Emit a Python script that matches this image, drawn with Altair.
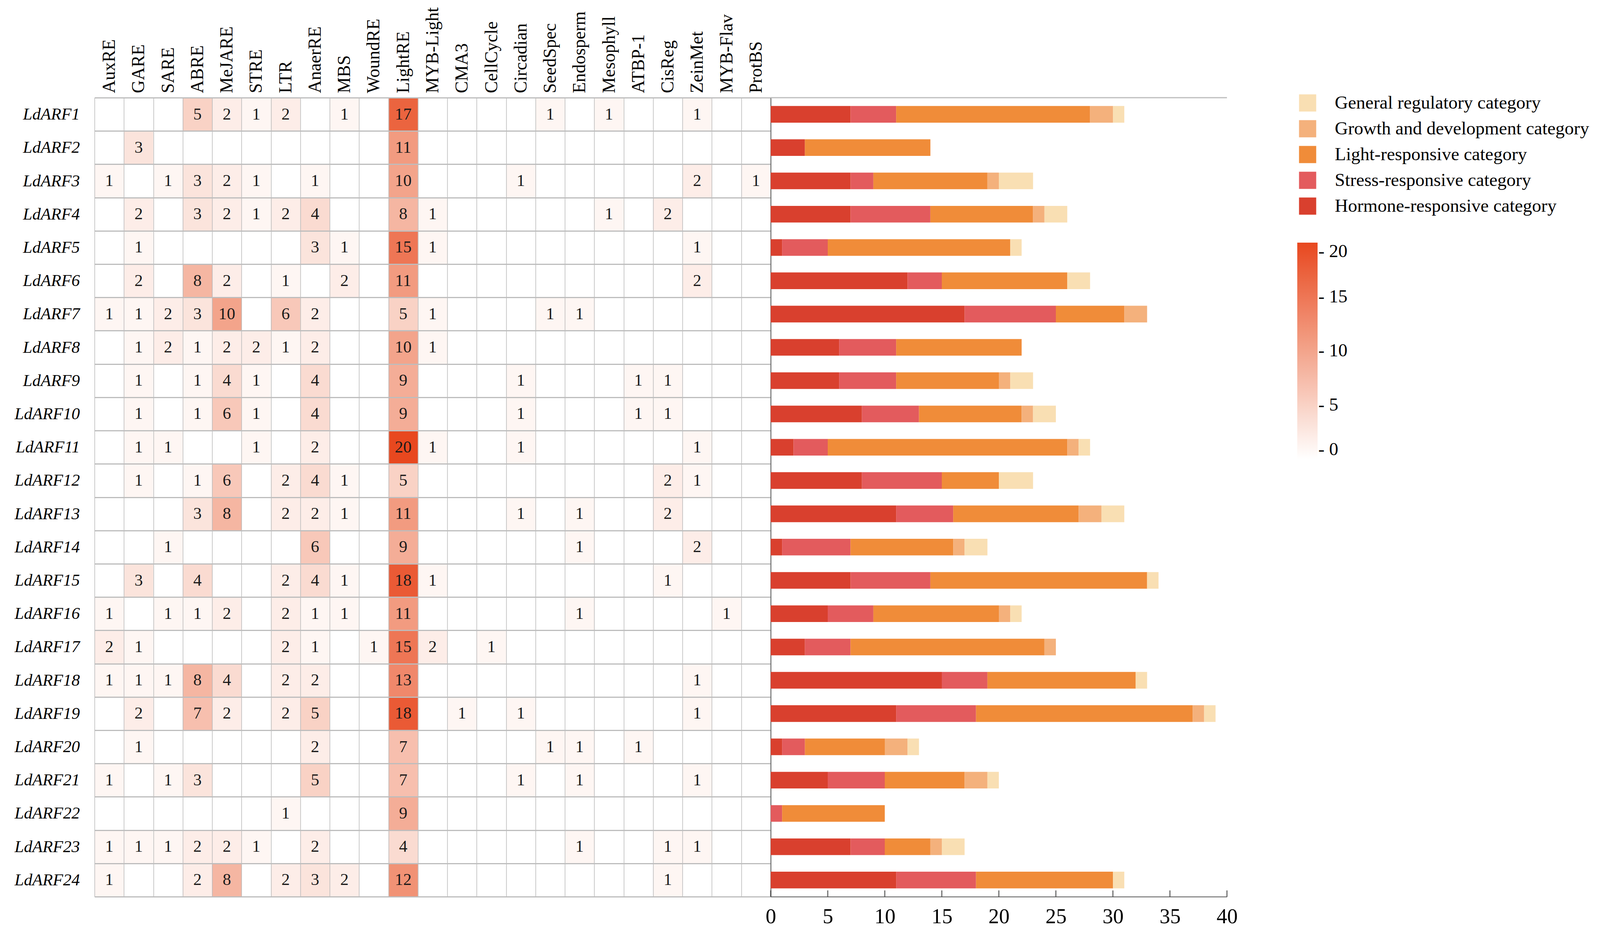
import altair as alt
import pandas as pd

FONT = "Liberation Serif"

genes = ["LdARF1", "LdARF2", "LdARF3", "LdARF4", "LdARF5", "LdARF6", "LdARF7", "LdARF8",
         "LdARF9", "LdARF10", "LdARF11", "LdARF12", "LdARF13", "LdARF14", "LdARF15", "LdARF16",
         "LdARF17", "LdARF18", "LdARF19", "LdARF20", "LdARF21", "LdARF22", "LdARF23", "LdARF24"]

elements = ["AuxRE", "GARE", "SARE", "ABRE", "MeJARE", "STRE", "LTR", "AnaerRE", "MBS", "WoundRE",
            "LightRE", "MYB-Light", "CMA3", "CellCycle", "Circadian", "SeedSpec", "Endosperm",
            "Mesophyll", "ATBP-1", "CisReg", "ZeinMet", "MYB-Flav", "ProtBS"]

# counts per gene (rows) and element (columns)
counts = [
    [0, 0, 0, 5, 2, 1, 2, 0, 1, 0, 17, 0, 0, 0, 0, 1, 0, 1, 0, 0, 1, 0, 0],
    [0, 3, 0, 0, 0, 0, 0, 0, 0, 0, 11, 0, 0, 0, 0, 0, 0, 0, 0, 0, 0, 0, 0],
    [1, 0, 1, 3, 2, 1, 0, 1, 0, 0, 10, 0, 0, 0, 1, 0, 0, 0, 0, 0, 2, 0, 1],
    [0, 2, 0, 3, 2, 1, 2, 4, 0, 0, 8, 1, 0, 0, 0, 0, 0, 1, 0, 2, 0, 0, 0],
    [0, 1, 0, 0, 0, 0, 0, 3, 1, 0, 15, 1, 0, 0, 0, 0, 0, 0, 0, 0, 1, 0, 0],
    [0, 2, 0, 8, 2, 0, 1, 0, 2, 0, 11, 0, 0, 0, 0, 0, 0, 0, 0, 0, 2, 0, 0],
    [1, 1, 2, 3, 10, 0, 6, 2, 0, 0, 5, 1, 0, 0, 0, 1, 1, 0, 0, 0, 0, 0, 0],
    [0, 1, 2, 1, 2, 2, 1, 2, 0, 0, 10, 1, 0, 0, 0, 0, 0, 0, 0, 0, 0, 0, 0],
    [0, 1, 0, 1, 4, 1, 0, 4, 0, 0, 9, 0, 0, 0, 1, 0, 0, 0, 1, 1, 0, 0, 0],
    [0, 1, 0, 1, 6, 1, 0, 4, 0, 0, 9, 0, 0, 0, 1, 0, 0, 0, 1, 1, 0, 0, 0],
    [0, 1, 1, 0, 0, 1, 0, 2, 0, 0, 20, 1, 0, 0, 1, 0, 0, 0, 0, 0, 1, 0, 0],
    [0, 1, 0, 1, 6, 0, 2, 4, 1, 0, 5, 0, 0, 0, 0, 0, 0, 0, 0, 2, 1, 0, 0],
    [0, 0, 0, 3, 8, 0, 2, 2, 1, 0, 11, 0, 0, 0, 1, 0, 1, 0, 0, 2, 0, 0, 0],
    [0, 0, 1, 0, 0, 0, 0, 6, 0, 0, 9, 0, 0, 0, 0, 0, 1, 0, 0, 0, 2, 0, 0],
    [0, 3, 0, 4, 0, 0, 2, 4, 1, 0, 18, 1, 0, 0, 0, 0, 0, 0, 0, 1, 0, 0, 0],
    [1, 0, 1, 1, 2, 0, 2, 1, 1, 0, 11, 0, 0, 0, 0, 0, 1, 0, 0, 0, 0, 1, 0],
    [2, 1, 0, 0, 0, 0, 2, 1, 0, 1, 15, 2, 0, 1, 0, 0, 0, 0, 0, 0, 0, 0, 0],
    [1, 1, 1, 8, 4, 0, 2, 2, 0, 0, 13, 0, 0, 0, 0, 0, 0, 0, 0, 0, 1, 0, 0],
    [0, 2, 0, 7, 2, 0, 2, 5, 0, 0, 18, 0, 1, 0, 1, 0, 0, 0, 0, 0, 1, 0, 0],
    [0, 1, 0, 0, 0, 0, 0, 2, 0, 0, 7, 0, 0, 0, 0, 1, 1, 0, 1, 0, 0, 0, 0],
    [1, 0, 1, 3, 0, 0, 0, 5, 0, 0, 7, 0, 0, 0, 1, 0, 1, 0, 0, 0, 1, 0, 0],
    [0, 0, 0, 0, 0, 0, 1, 0, 0, 0, 9, 0, 0, 0, 0, 0, 0, 0, 0, 0, 0, 0, 0],
    [1, 1, 1, 2, 2, 1, 0, 2, 0, 0, 4, 0, 0, 0, 0, 0, 1, 0, 0, 1, 1, 0, 0],
    [1, 0, 0, 2, 8, 0, 2, 3, 2, 0, 12, 0, 0, 0, 0, 0, 0, 0, 0, 1, 0, 0, 0],
]

# category totals per gene
hormone = [7, 3, 7, 7, 1, 12, 17, 6, 6, 8, 2, 8, 11, 1, 7, 5, 3, 15, 11, 1, 5, 0, 7, 11]
stress = [4, 0, 2, 7, 4, 3, 8, 5, 5, 5, 3, 7, 5, 6, 7, 4, 4, 4, 7, 2, 5, 1, 3, 7]
light = [17, 11, 10, 9, 16, 11, 6, 11, 9, 9, 21, 5, 11, 9, 19, 11, 17, 13, 19, 7, 7, 9, 4, 12]
growth = [2, 0, 1, 1, 0, 0, 2, 0, 1, 1, 1, 0, 2, 1, 0, 1, 1, 0, 1, 2, 2, 0, 1, 0]
general = [1, 0, 3, 2, 1, 2, 0, 0, 2, 2, 1, 3, 2, 2, 1, 1, 0, 1, 1, 1, 1, 0, 2, 1]

categories = ["Hormone-responsive category", "Stress-responsive category",
              "Light-responsive category", "Growth and development category",
              "General regulatory category"]
cat_colors = ["#d9402e", "#e35b5d", "#f08c39", "#f4b17c", "#f9dfb3"]
legend_order = categories[::-1]
legend_colors = cat_colors[::-1]
x_ticks = [0, 5, 10, 15, 20, 25, 30, 35, 40]
color_ticks = [0, 5, 10, 15, 20]
heat_stops = [0, 10, 20]
heat_colors = ["#ffffff", "#f3a48b", "#e8481f"]

# ---- build tables
heat_rows = []
for gi, g in enumerate(genes):
    for ei, e in enumerate(elements):
        heat_rows.append({"gene": g, "element": e, "value": counts[gi][ei]})
heat_df = pd.DataFrame(heat_rows)

bar_rows = []
series = [hormone, stress, light, growth, general]
for ci, (cat, vals) in enumerate(zip(categories, series)):
    for gi, g in enumerate(genes):
        bar_rows.append({"gene": g, "category": cat, "value": vals[gi], "order": ci})
bar_df = pd.DataFrame(bar_rows)
tick_df = pd.DataFrame({"t": x_ticks})
one_df = pd.DataFrame({"a": [0]})

W_H = 1731
H = 2045
W_B = 1168

x_enc = alt.X(
    "element:N", sort=elements,
    scale=alt.Scale(paddingInner=0, paddingOuter=0),
    axis=alt.Axis(orient="top", title=None, labelAngle=270, labelAlign="left",
                  labelBaseline="middle", labelFont=FONT, labelFontSize=46,
                  labelColor="black", labelPadding=12, labelLimit=500, ticks=False,
                  domain=False, grid=True, gridColor="#b8b8b8", gridWidth=1.5,
                  tickBand="extent", zindex=1),
)
y_enc = alt.Y(
    "gene:N", sort=genes,
    scale=alt.Scale(paddingInner=0, paddingOuter=0),
    axis=alt.Axis(title=None, labelFont=FONT, labelFontStyle="italic", labelFontSize=43,
                  labelColor="black", labelPadding=38, labelLimit=500, ticks=False,
                  domain=False, grid=True, gridColor="#bdbdbd", gridWidth=3,
                  tickBand="extent", zindex=1),
)

rects = alt.Chart(heat_df).mark_rect(opacity=1, fillOpacity=1).encode(
    x=x_enc, y=y_enc,
    fill=alt.Fill("value:Q",
                  scale=alt.Scale(type="linear", domain=heat_stops, range=heat_colors,
                                  interpolate="rgb", zero=False, nice=False),
                  legend=alt.Legend(title=None, orient="none", legendX=3079, legendY=371,
                                    direction="vertical", gradientLength=554,
                                    gradientThickness=52, values=color_ticks,
                                    labelFont=FONT, labelFontSize=47, labelColor="black",
                                    labelOffset=2, labelExpr="'- ' + datum.label",
                                    gradientStrokeWidth=0, padding=0)),
)
texts = alt.Chart(heat_df).transform_filter("datum.value > 0").mark_text(
    font=FONT, fontSize=43, color="#1a1a1a", baseline="middle", align="center"
).encode(x=x_enc, y=y_enc, text="value:Q")

heat = alt.layer(rects, texts).properties(width=W_H, height=H)

bars = alt.Chart(bar_df).mark_bar(opacity=1).encode(
    x=alt.X("value:Q", stack="zero",
            scale=alt.Scale(domain=[0, 40], nice=False),
            axis=alt.Axis(title=None, values=x_ticks, ticks=False, domainColor="#555555",
                          domainWidth=2, labelFont=FONT, labelFontSize=54,
                          labelColor="black", labelPadding=24, grid=False, labelFlush=False)),
    y=alt.Y("gene:N", sort=genes,
            scale=alt.Scale(paddingInner=0.5, paddingOuter=0.25),
            axis=alt.Axis(title=None, labels=False, ticks=False, domainColor="#555555",
                          domainWidth=2, grid=False)),
    color=alt.Color("category:N",
                    scale=alt.Scale(domain=legend_order, range=legend_colors),
                    legend=alt.Legend(title=None, orient="none", legendX=1351, legendY=-10,
                                      symbolType="square", symbolSize=1936,
                                      symbolStrokeWidth=0, symbolOpacity=1,
                                      labelFont=FONT, labelFontSize=47, labelColor="black",
                                      labelOffset=46, rowPadding=18, padding=0,
                                      labelLimit=1000)),
    order=alt.Order("order:Q"),
)

ticks = alt.Chart(tick_df).mark_tick(orient="vertical", size=16, thickness=3,
                                     color="#333333").encode(
    x=alt.X("t:Q"), y=alt.value(H - 8))

top_line = alt.Chart(one_df).mark_rule(color="#bdbdbd", strokeWidth=3).encode(
    x=alt.datum(0), x2=alt.datum(40), y=alt.value(0))

bar_chart = alt.layer(bars, ticks, top_line).properties(width=W_B, height=H)

chart = alt.hconcat(heat, bar_chart, spacing=0, bounds="flush").resolve_scale(
    fill="independent", color="independent"
).resolve_legend(
    fill="independent", color="independent"
).properties(
    padding={"left": 28, "top": 10, "right": 5, "bottom": 5}, background="white"
).configure_view(stroke=None).configure_legend(
    gradientVerticalMaxLength=800, symbolLimit=0
)

chart.save("out.html", embed_options={"renderer": "svg", "actions": False})
